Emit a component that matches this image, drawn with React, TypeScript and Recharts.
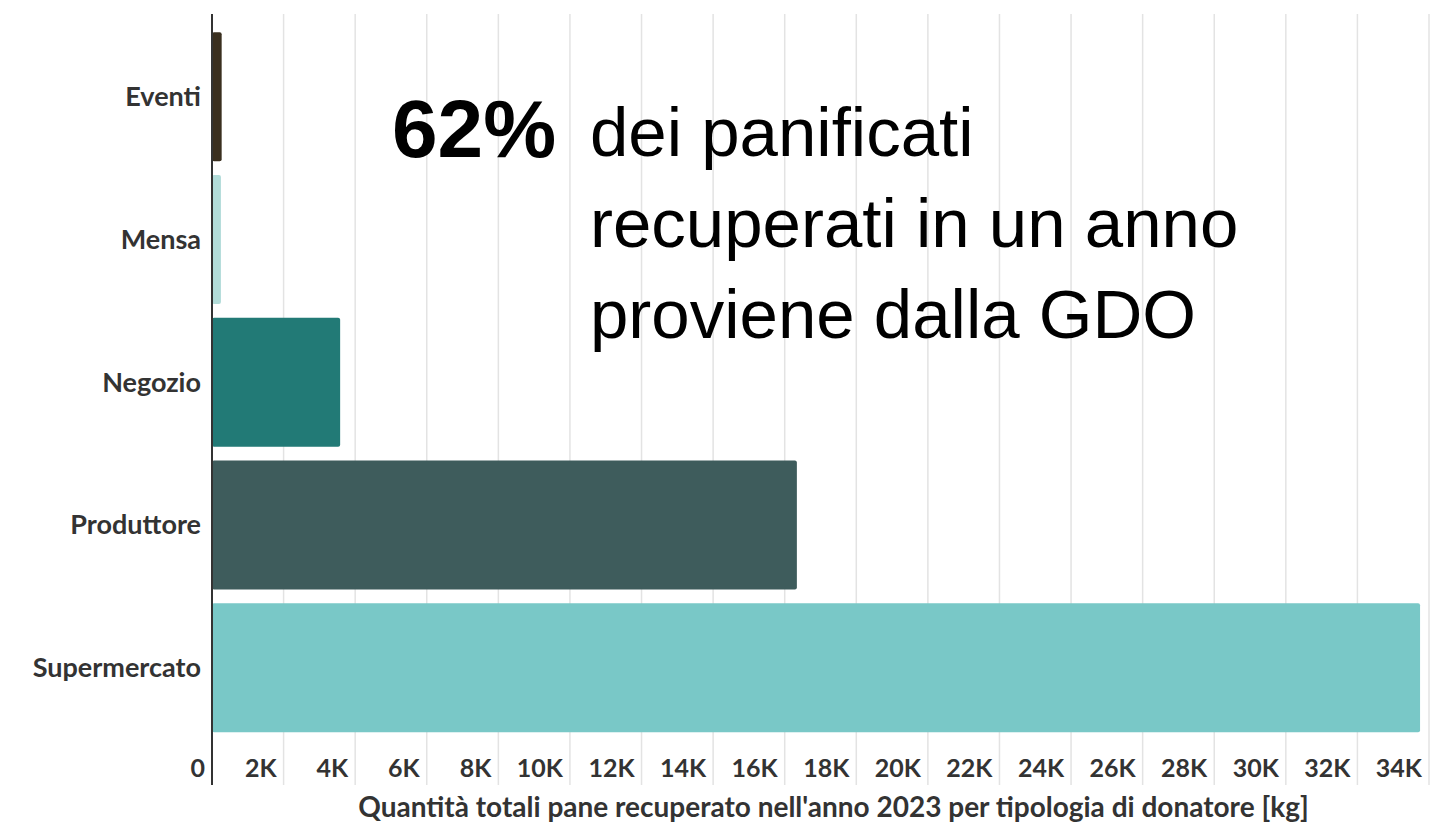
import React from "react";
import { BarChart, Bar, XAxis, YAxis, CartesianGrid, Cell } from "recharts";

const categories = ["Eventi", "Mensa", "Negozio", "Produttore", "Supermercato"];
const amounts = [270, 250, 3580, 16340, 33750];
const barColors = ["#3a2f1f", "#b2dcd9", "#227a76", "#3e5c5c", "#79c8c7"];
const xTicks = [0, 2000, 4000, 6000, 8000, 10000, 12000, 14000, 16000, 18000, 20000, 22000, 24000, 26000, 28000, 30000, 32000, 34000];
const xTickLabels = ["0", "2K", "4K", "6K", "8K", "10K", "12K", "14K", "16K", "18K", "20K", "22K", "24K", "26K", "28K", "30K", "32K", "34K"];
const axisTitle = "Quantità totali pane recuperato nell'anno 2023 per tipologia di donatore [kg]";
const headline = "62%";
const noteLines = ["dei panificati", "recuperati in un anno", "proviene dalla GDO"];

const data = categories.map((c, i) => ({ name: c, value: amounts[i] }));

const labelFont = "Lato, 'Open Sans', sans-serif";

const XTick = (props: any) => {
  const { x, y, payload } = props;
  const label = xTickLabels[xTicks.indexOf(payload.value)] ?? String(payload.value);
  return (
    <text
      x={x - 7}
      y={y - 8}
      textAnchor="end"
      fontFamily={labelFont}
      fontWeight={700}
      fontSize={25}
      fill="#333333"
    >
      {label}
    </text>
  );
};

const AxisTitle = (props: any) => {
  const vb = props.viewBox || {};
  const cx = (vb.x ?? 0) + (vb.width ?? 0) / 2 + 13;
  const by = (vb.y ?? 0) + (vb.height ?? 0) - 10;
  return (
    <text
      x={cx}
      y={by}
      textAnchor="middle"
      fontFamily={labelFont}
      fontWeight={700}
      fontSize={28}
      fill="#333333"
    >
      {axisTitle}
    </text>
  );
};

export default function App() {
  return (
    <div style={{ position: "absolute", left: 0, top: 0, width: 1431, height: 827, background: "#ffffff" }}>
      <BarChart
        layout="vertical"
        width={1431}
        height={827}
        data={data}
        margin={{ top: 14, right: 2, bottom: 0, left: 0 }}
        barCategoryGap="5%"
      >
        <CartesianGrid horizontal={false} vertical={true} stroke="#e3e3e3" strokeWidth={1.5} />
        <XAxis
          type="number"
          domain={[0, 34000]}
          ticks={xTicks}
          interval={0}
          axisLine={false}
          tickLine={false}
          tickSize={0}
          tickMargin={0}
          height={42}
          tick={<XTick />}
          label={<AxisTitle />}
        />
        <YAxis
          type="category"
          dataKey="name"
          width={212}
          axisLine={{ stroke: "#333333", strokeWidth: 2 }}
          tickLine={false}
          tickSize={0}
          tickMargin={11}
          padding={{ top: 11, bottom: 46 }}
          tick={{ fontFamily: labelFont, fontWeight: 700, fontSize: 27, fill: "#333333" }}
        />
        <Bar dataKey="value" isAnimationActive={false} radius={2}>
          {data.map((d, i) => (
            <Cell key={d.name} fill={barColors[i]} />
          ))}
        </Bar>
      </BarChart>
      <svg
        width={1431}
        height={827}
        style={{ position: "absolute", left: 0, top: 0, pointerEvents: "none" }}
      >
        <text x={392} y={157} fontFamily="'Liberation Sans', Arial, sans-serif" fontWeight={700} fontSize={82} fill="#000">
          {headline}
        </text>
        {noteLines.map((line, i) => (
          <text
            key={line}
            x={590}
            y={156 + i * 91}
            fontFamily="'Liberation Sans', Arial, sans-serif"
            fontSize={69}
            fill="#000"
          >
            {line}
          </text>
        ))}
      </svg>
    </div>
  );
}
